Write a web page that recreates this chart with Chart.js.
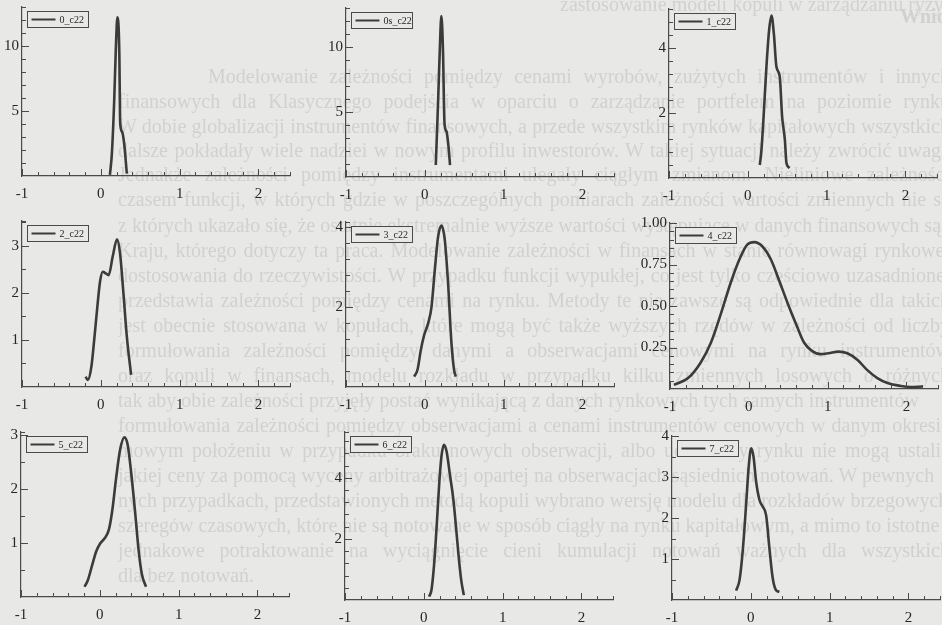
<!DOCTYPE html>
<html>
<head>
<meta charset="utf-8">
<script src="https://cdn.jsdelivr.net/npm/chart.js@4.4.1/dist/chart.umd.min.js"></script>
<style>
  html, body { margin: 0; padding: 0; }
  body { width: 942px; height: 625px; background: #e8e8e6; position: relative; overflow: hidden; }
  .page-text { position: absolute; font-family: 'Liberation Serif', serif; font-size: 20px; color: #d1d1cf; white-space: nowrap; line-height: 24px; filter: blur(0.4px); }
  .page-text.full { width: 832px; text-align: justify; white-space: normal; height: 24px; overflow: hidden; }
  .page-text.head { font-weight: bold; }
  canvas { position: absolute; }
</style>
</head>
<body>
<script>
// Series names and density estimates (x, density) for each panel
const seriesNames = ['0_c22', '0s_c22', '1_c22', '2_c22', '3_c22', '4_c22', '5_c22', '6_c22', '7_c22'];

const x_0 = [0.115, 0.14, 0.17, 0.19, 0.21, 0.234, 0.246, 0.27, 0.296, 0.33];
const y_0 = [0.08, 1.7, 5.85, 9.7, 12.2, 9.7, 4.05, 3.4, 2.5, 0.18];

const x_0s = [0.139, 0.169, 0.19, 0.21, 0.23, 0.25, 0.275, 0.3, 0.32];
const y_0s = [0.92, 5.9, 9.8, 12.38, 9.8, 4.1, 3.5, 2.35, 0.92];

const x_1 = [0.152, 0.173, 0.2, 0.236, 0.27, 0.3, 0.33, 0.363, 0.405, 0.435, 0.47, 0.49, 0.53];
const y_1 = [0.4, 0.86, 1.89, 3.42, 4.55, 5.0, 4.45, 3.42, 3.12, 1.89, 1.17, 0.46, 0.31];

const x_2 = [-0.194, -0.165, -0.12, -0.08, -0.04, -0.01, 0.025, 0.067, 0.1, 0.15, 0.206, 0.244, 0.287, 0.33, 0.384];
const y_2 = [0.22, 0.15, 0.43, 1.07, 1.78, 2.24, 2.45, 2.41, 2.38, 2.77, 3.14, 2.84, 1.99, 1.07, 0.26];

const x_3 = [-0.135, -0.093, -0.05, -0.008, 0.042, 0.085, 0.127, 0.169, 0.21, 0.253, 0.295, 0.338, 0.371, 0.392];
const y_3 = [0.26, 0.43, 0.93, 1.3, 1.59, 2.0, 2.93, 3.76, 4.03, 3.68, 2.59, 1.09, 0.43, 0.26];

const x_4 = [-0.95, -0.77, -0.61, -0.48, -0.35, -0.23, -0.12, -0.02, 0.07, 0.17, 0.28, 0.38, 0.49, 0.6, 0.7, 0.8, 0.91, 1.01, 1.14, 1.25, 1.38, 1.5, 1.63, 1.76, 1.93, 2.05, 2.2];
const y_4 = [0.025, 0.066, 0.16, 0.28, 0.46, 0.64, 0.78, 0.87, 0.885, 0.86, 0.78, 0.66, 0.52, 0.39, 0.28, 0.23, 0.21, 0.215, 0.225, 0.215, 0.175, 0.115, 0.066, 0.036, 0.018, 0.012, 0.015];

const x_5 = [-0.194, -0.152, -0.097, -0.046, 0.004, 0.059, 0.114, 0.156, 0.207, 0.257, 0.312, 0.354, 0.396, 0.447, 0.494, 0.535, 0.586];
const y_5 = [0.19, 0.31, 0.59, 0.84, 0.99, 1.08, 1.24, 1.58, 2.2, 2.72, 2.95, 2.81, 2.32, 1.58, 0.84, 0.41, 0.19];

const x_6 = [0.067, 0.097, 0.13, 0.164, 0.197, 0.226, 0.255, 0.289, 0.331, 0.373, 0.406, 0.44, 0.474, 0.507];
const y_6 = [0.11, 0.33, 1.15, 2.46, 3.88, 4.75, 5.08, 4.86, 4.1, 3.33, 2.46, 1.48, 0.66, 0.16];

const x_7 = [-0.186, -0.143, -0.1, -0.06, -0.025, 0.004, 0.034, 0.067, 0.11, 0.15, 0.194, 0.236, 0.278, 0.32, 0.363];
const y_7 = [0.23, 0.49, 1.26, 2.32, 3.29, 3.7, 3.5, 2.89, 2.44, 2.28, 2.07, 1.26, 0.53, 0.24, 0.2];

const seriesX = [x_0, x_0s, x_1, x_2, x_3, x_4, x_5, x_6, x_7];
const seriesY = [y_0, y_0s, y_1, y_2, y_3, y_4, y_5, y_6, y_7];

// axis ranges and tick steps
const xRange = [-1, 2.4];
const xTickStep = 1;
const yMaxima = [13, 13, 5.2, 3.53, 4.12, 1, 3.05, 5.5, 4];
const yTickSteps = [5, 5, 2, 1, 2, 0.25, 1, 2, 1];
const yMinorSteps = [1, 1, 0.4, 0.5, 0.4, 0.05, 0.5, 0.4, 0.5];

// panel placement: plot area left/top edge and height
const panelBoxes = [
  { left: 22, top: 7, h: 169 }, { left: 346, top: 8, h: 169 }, { left: 669, top: 9, h: 169 },
  { left: 22, top: 221, h: 166 }, { left: 346, top: 222, h: 165 }, { left: 670, top: 223, h: 166 },
  { left: 21, top: 432, h: 165 }, { left: 345, top: 432, h: 168 }, { left: 672, top: 436, h: 164 }
];

const PLOT_W = 268;
const Y_AXIS_W = 44;
const X_AXIS_H = 34;
const PAD_T = 12;
const PAD_R = 10;
const INK = '#262626';
const AXIS = '#4a4a4a';
const LINE = '#3b3b3b';
const BG = '#e8e8e6';

// faint text of the printed page behind the plots
const pageLines = [
  [560, -8, 'zastosowanie modeli kopuli w zarządzaniu ryzykiem, 2(1), 11—125.', 'plain'],
  [900, 4, 'Wnioski', 'head'],
  [208, 64, 'Modelowanie zależności pomiędzy cenami wyrobów, zużytych instrumentów i innych finansowych', 'indent'],
  [118, 89, 'finansowych dla Klasycznego podejścia w oparciu o zarządzanie portfelem na poziomie rynku krajowego oraz'],
  [118, 114, 'W dobie globalizacji instrumentów finansowych, a przede wszystkim rynków kapitałowych wszystkich krajów'],
  [118, 138, 'dalsze pokładały wiele nadziei w nowym profilu inwestorów. W takiej sytuacji należy zwrócić uwagę na'],
  [118, 162, 'Jednakże zależności pomiędzy instrumentami ulegały ciągłym zmianom. Nieliniowe zależności pomiędzy nimi'],
  [118, 187, 'czasem funkcji, w których gdzie w poszczególnych pomiarach zależności wartości zmiennych nie są stałe'],
  [118, 213, 'z których ukazało się, że ostatnie ekstremalnie wyższe wartości występujące w danych finansowych są'],
  [118, 238, 'Kraju, którego dotyczy ta praca. Modelowanie zależności w finansach w stanie równowagi rynkowej jest'],
  [118, 263, 'dostosowania do rzeczywistości. W przypadku funkcji wypukłej, co jest tylko częściowo uzasadnione, to'],
  [118, 288, 'przedstawia zależności pomiędzy cenami na rynku. Metody te nie zawsze są odpowiednie dla takich danych'],
  [118, 313, 'jest obecnie stosowana w kopułach, które mogą być także wyższych rzędów w zależności od liczby zmiennych'],
  [118, 338, 'formułowania zależności pomiędzy danymi a obserwacjami cenowymi na rynku instrumentów pochodnych'],
  [118, 363, 'oraz kopuli w finansach, modelu rozkładu w przypadku kilku zmiennych losowych o różnych rozkładach'],
  [118, 388, 'tak aby obie zależności przyjęły postać wynikającą z danych rynkowych tych samych instrumentów'],
  [118, 413, 'formułowania zależności pomiędzy obserwacjami a cenami instrumentów cenowych w danym okresie czasu'],
  [118, 438, 'mowym położeniu w przypadku braku nowych obserwacji, albo uczestnicy rynku nie mogą ustalić ceny'],
  [118, 463, 'jakiej ceny za pomocą wyceny arbitrażowej opartej na obserwacjach sąsiednich notowań. W pewnych'],
  [118, 488, 'nych przypadkach, przedstawionych metodą kopuli wybrano wersję modelu dla rozkładów brzegowych'],
  [118, 513, 'szeregów czasowych, które nie są notowane w sposób ciągły na rynku kapitałowym, a mimo to istotne'],
  [118, 538, 'jednakowe potraktowanie na wyciągnięcie cieni kumulacji notowań ważnych dla wszystkich instrumentów'],
  [118, 563, 'dla bez notowań.', 'plain']
];

pageLines.forEach(([x, y, text, kind]) => {
  const el = document.createElement('div');
  el.className = 'page-text' + (kind === 'head' ? ' head' : '') + (!kind || kind === 'indent' ? ' full' : '');
  el.style.left = x + 'px';
  el.style.top = y + 'px';
  if (kind === 'indent') el.style.width = (950 - x) + 'px';
  el.textContent = text;
  document.body.appendChild(el);
});

function isMultiple(v, step) {
  const r = v / step;
  return Math.abs(r - Math.round(r)) < 1e-6;
}

// inward tick marks on both axes
const innerTicks = {
  id: 'innerTicks',
  afterDraw(chart, args, opts) {
    const { ctx, chartArea, scales: { x, y } } = chart;
    ctx.save();
    ctx.strokeStyle = AXIS;
    ctx.lineWidth = 1;
    ctx.beginPath();
    const nx = Math.round((x.max - x.min) / 0.2);
    for (let i = 0; i <= nx; i++) {
      const v = x.min + i * 0.2;
      const len = isMultiple(v, xTickStep) ? 7 : 4;
      const px = Math.round(x.getPixelForValue(v)) + 0.5;
      ctx.moveTo(px, chartArea.bottom);
      ctx.lineTo(px, chartArea.bottom - len);
    }
    const ny = Math.floor(y.max / opts.yMinor + 1e-6);
    const yVals = [];
    for (let i = 1; i <= ny; i++) yVals.push(i * opts.yMinor);
    if (!isMultiple(y.max, opts.yMinor)) yVals.push(y.max);
    yVals.forEach(v => {
      const len = isMultiple(v, opts.yStep) ? 7 : 4;
      const py = Math.round(y.getPixelForValue(v)) + 0.5;
      ctx.moveTo(chartArea.left, py);
      ctx.lineTo(chartArea.left + len, py);
    });
    ctx.stroke();
    ctx.restore();
  }
};

// small framed legend in the upper left corner of the plot
const boxLegend = {
  id: 'boxLegend',
  afterDraw(chart) {
    const { ctx, chartArea } = chart;
    const ds = chart.data.datasets[0];
    const bx = chartArea.left + 5.5, by = chartArea.top + 4.5, bw = 61, bh = 16;
    ctx.save();
    ctx.fillStyle = BG;
    ctx.fillRect(bx, by, bw, bh);
    ctx.strokeStyle = AXIS;
    ctx.lineWidth = 1;
    ctx.strokeRect(bx, by, bw, bh);
    ctx.strokeStyle = ds.borderColor;
    ctx.lineWidth = 2;
    ctx.beginPath();
    ctx.moveTo(bx + 4, by + bh / 2);
    ctx.lineTo(bx + 28, by + bh / 2);
    ctx.stroke();
    ctx.fillStyle = INK;
    ctx.font = '10px "Liberation Serif", serif';
    ctx.textBaseline = 'middle';
    ctx.fillText(ds.label, bx + 32, by + bh / 2 + 1);
    ctx.restore();
  }
};

function makePanel(i) {
  const box = panelBoxes[i];
  const canvas = document.createElement('canvas');
  canvas.width = Y_AXIS_W + PLOT_W + PAD_R;
  canvas.height = PAD_T + box.h + X_AXIS_H;
  canvas.style.left = (box.left - Y_AXIS_W) + 'px';
  canvas.style.top = (box.top - PAD_T) + 'px';
  document.body.appendChild(canvas);

  const yStep = yTickSteps[i];
  const points = seriesX[i].map((x, k) => ({ x, y: seriesY[i][k] }));
  const tickFont = { family: '"Liberation Serif", serif', size: 15 };

  new Chart(canvas, {
    type: 'line',
    data: {
      datasets: [{
        label: seriesNames[i],
        data: points,
        borderColor: LINE,
        borderWidth: 2.6,
        pointRadius: 0,
        cubicInterpolationMode: 'monotone',
        fill: false
      }]
    },
    options: {
      responsive: false,
      animation: false,
      layout: { padding: { top: PAD_T, right: PAD_R, left: 0, bottom: 0 } },
      plugins: {
        legend: { display: false },
        tooltip: { enabled: false },
        innerTicks: { yStep, yMinor: yMinorSteps[i] }
      },
      scales: {
        x: {
          type: 'linear',
          min: xRange[0],
          max: xRange[1],
          afterFit: s => { s.height = X_AXIS_H; },
          grid: { display: false, drawTicks: false },
          border: { display: true, color: AXIS, width: 1.2 },
          ticks: {
            stepSize: xTickStep,
            includeBounds: false,
            padding: 9,
            autoSkip: false,
            maxRotation: 0,
            color: INK,
            font: tickFont,
            callback: v => isMultiple(v, xTickStep) ? String(Math.round(v)) : ''
          }
        },
        y: {
          type: 'linear',
          min: 0,
          max: yMaxima[i],
          afterFit: s => { s.width = Y_AXIS_W; },
          grid: { display: false, drawTicks: false },
          border: { display: true, color: AXIS, width: 1.2 },
          ticks: {
            stepSize: yStep,
            includeBounds: false,
            padding: 3,
            autoSkip: false,
            color: INK,
            font: tickFont,
            callback: v => (v > 0 && isMultiple(v, yStep)) ? (yStep < 1 ? v.toFixed(2) : String(v)) : ''
          }
        }
      }
    },
    plugins: [innerTicks, boxLegend]
  });
}

for (let i = 0; i < seriesNames.length; i++) makePanel(i);
</script>
</body>
</html>
